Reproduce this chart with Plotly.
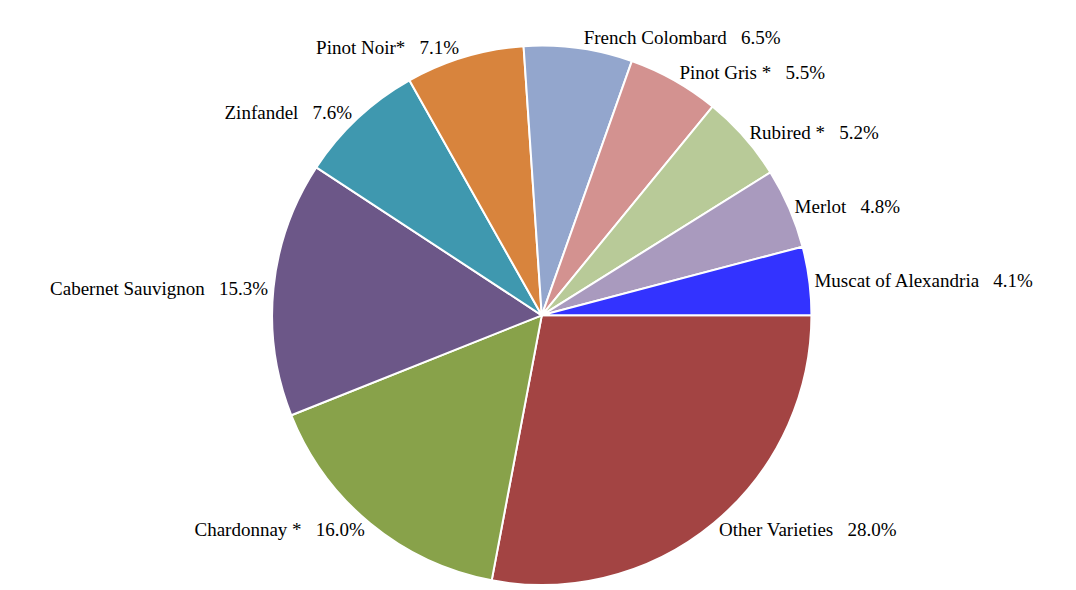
import plotly.graph_objects as go

varieties = ["Other Varieties", "Chardonnay *", "Cabernet Sauvignon", "Zinfandel",
             "Pinot Noir*", "French Colombard", "Pinot Gris *", "Rubired *",
             "Merlot", "Muscat of Alexandria"]
shares = [28.0, 16.0, 15.3, 7.6, 7.1, 6.5, 5.5, 5.2, 4.8, 4.1]
colors = ["#A34443", "#88A24A", "#6C5788", "#3F98AF", "#D8843D", "#93A6CD",
          "#D39290", "#B8CA98", "#A99ABE", "#3333FF"]

labels_text = [f"{v}   {s:.1f}%" for v, s in zip(varieties, shares)]

fig = go.Figure(go.Pie(
    labels=varieties,
    values=shares,
    text=labels_text,
    textinfo="text",
    textposition="outside",
    sort=False,
    direction="clockwise",
    rotation=90,
    marker=dict(colors=colors, line=dict(color="white", width=2)),
    textfont=dict(family="Liberation Serif", size=19, color="black"),
    outsidetextfont=dict(family="Liberation Serif", size=19, color="black"),
    domain=dict(x=[0.247, 0.760], y=[0.0, 0.922]),
    showlegend=False,
    hoverinfo="label+percent",
))

fig.update_layout(
    width=1076, height=590,
    margin=dict(l=0, r=0, t=0, b=0),
    paper_bgcolor="white",
    plot_bgcolor="white",
)

fig.write_html("out.html", config={"displayModeBar": False},
               post_script="document.body.style.margin='0';")
